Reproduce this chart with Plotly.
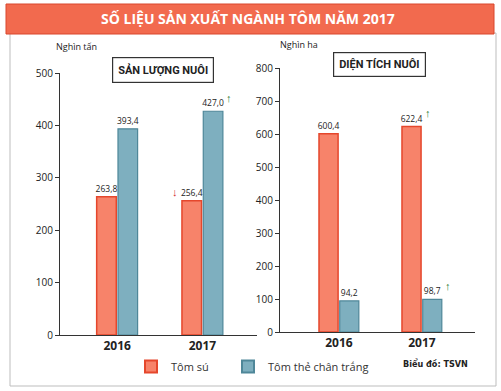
import plotly.graph_objects as go

years = ["2016", "2017"]
san_luong_tom_su = [263.8, 256.4]
san_luong_tom_the = [393.4, 427.0]
dien_tich_tom_su = [600.4, 622.4]
dien_tich_tom_the = [94.2, 98.7]
series_names = ["Tôm sú", "Tôm thẻ chân trắng"]
title_text = "SỐ LIỆU SẢN XUẤT NGÀNH TÔM NĂM 2017"
left_ticks = [0, 100, 200, 300, 400, 500]
right_ticks = [0, 100, 200, 300, 400, 500, 600, 700, 800]

W, H = 501, 391
RED_FILL, RED_LINE = "#F7836A", "#E5472C"
BLUE_FILL, BLUE_LINE = "#7EAFBF", "#4F8799"
FONT = "Open Sans"


def px(x):
    return x / W


def py(y):
    return 1 - y / H


fig = go.Figure()

common = dict(texttemplate="%{y:.1f}", textposition="outside", cliponaxis=False,
              constraintext="none",
              textfont=dict(size=8.5, color="#222", family=FONT))

fig.add_trace(go.Bar(x=years, y=san_luong_tom_su, name=series_names[0], legend="legend",
                     marker=dict(color=RED_FILL, line=dict(color=RED_LINE, width=1.5)),
                     xaxis="x", yaxis="y", legendgroup="a", **common))
fig.add_trace(go.Bar(x=years, y=san_luong_tom_the, name=series_names[1], legend="legend2",
                     marker=dict(color=BLUE_FILL, line=dict(color=BLUE_LINE, width=1.2)),
                     xaxis="x", yaxis="y", legendgroup="b", **common))
fig.add_trace(go.Bar(x=years, y=dien_tich_tom_su, name=series_names[0], showlegend=False,
                     marker=dict(color=RED_FILL, line=dict(color=RED_LINE, width=1.5)),
                     xaxis="x2", yaxis="y2", legendgroup="a", **common))
fig.add_trace(go.Bar(x=years, y=dien_tich_tom_the, name=series_names[1], showlegend=False,
                     marker=dict(color=BLUE_FILL, line=dict(color=BLUE_LINE, width=1.2)),
                     xaxis="x2", yaxis="y2", legendgroup="b", **common))

xaxis_common = dict(type="category", showgrid=False, zeroline=False, showline=True,
                    linecolor="#333", linewidth=1, ticks="", automargin=False,
                    tickfont=dict(size=12, color="#222", family=FONT, weight="bold"))
yaxis_common = dict(showgrid=False, zeroline=False, showline=True, linecolor="#333",
                    linewidth=1, ticks="outside", ticklen=4, tickcolor="#333", automargin=False,
                    tickfont=dict(size=10, color="#222", family=FONT))

legend_common = dict(orientation="h", xanchor="left", yanchor="top",
                     xref="container", yref="container",
                     font=dict(size=11, color="#333", family=FONT),
                     itemsizing="constant", bgcolor="rgba(0,0,0,0)")

fig.update_layout(
    width=W, height=H,
    margin=dict(l=0, r=0, t=0, b=0, autoexpand=False),
    paper_bgcolor="white", plot_bgcolor="white",
    separators=",.",
    barmode="group", bargap=0.5, bargroupgap=0.08,
    font=dict(family=FONT, color="#222"),
    xaxis=dict(domain=[px(60), px(257)], range=[-0.67, 1.64], anchor="y", **xaxis_common),
    yaxis=dict(domain=[py(335), py(73)], range=[0, 500], tickvals=left_ticks,
               anchor="x", **yaxis_common),
    xaxis2=dict(domain=[px(280), px(475)], range=[-0.71, 1.64], anchor="y2", **xaxis_common),
    yaxis2=dict(domain=[py(332), py(68)], range=[0, 800], tickvals=right_ticks,
                anchor="x2", **yaxis_common),
    legend=dict(x=px(131), y=py(352), **legend_common),
    legend2=dict(x=px(228), y=py(352), **legend_common),
    showlegend=True,
)

# outer frame and banner
fig.add_shape(type="rect", xref="paper", yref="paper", x0=px(10), x1=px(496), y0=py(386), y1=py(33),
              line=dict(color="#BDBDBD", width=1), fillcolor="rgba(0,0,0,0)", layer="below")
fig.add_shape(type="rect", xref="paper", yref="paper", x0=px(6), x1=px(494), y0=py(34), y1=py(4),
              line=dict(color="#D9462D", width=1), fillcolor="#F26A4E", layer="below")

ann = []


def label(text, x, y, size, color="#222", family=FONT, xanchor="center", **kw):
    ann.append(dict(text=text, x=px(x), y=py(y), xref="paper", yref="paper",
                    xanchor=xanchor, yanchor="middle", showarrow=False,
                    font=dict(size=size, color=color, family=family), **kw))


label("<b>" + title_text + "</b>", 248, 19, 14, color="white")
label("Nghìn tấn", 76, 47, 9)
label("Nghìn ha", 299, 45, 9)
label("<b>SẢN LƯỢNG NUÔI</b>", 163, 69.5, 11, family="Roboto",
      bordercolor="#333", borderwidth=1.2, borderpad=5)
label("<b>DIỆN TÍCH NUÔI</b>", 379, 65, 11, family="Roboto",
      bordercolor="#333", borderwidth=1.2, borderpad=5)
label("<b>Biểu đồ: TSVN</b>", 470, 363, 9, family="DejaVu Sans Condensed, Roboto, sans-serif",
      xanchor="right")

# trend arrows
ann.append(dict(text="<b>↓</b>", x=0.875, y=san_luong_tom_su[1], xref="x", yref="y",
                xshift=-17, yshift=9, showarrow=False, font=dict(size=11, color="#D32F2F")))
ann.append(dict(text="<b>↑</b>", x=1.125, y=san_luong_tom_the[1], xref="x", yref="y",
                xshift=16, yshift=14, showarrow=False, font=dict(size=11, color="#2E7D32")))
ann.append(dict(text="<b>↑</b>", x=0.875, y=dien_tich_tom_su[1], xref="x2", yref="y2",
                xshift=16, yshift=14, showarrow=False, font=dict(size=11, color="#2E7D32")))
ann.append(dict(text="<b>↑</b>", x=1.125, y=dien_tich_tom_the[1], xref="x2", yref="y2",
                xshift=16, yshift=14, showarrow=False, font=dict(size=11, color="#2E7D32")))
fig.update_layout(annotations=ann)

fig.write_html("out.html", config={"displayModeBar": False},
               post_script="document.body.style.margin='0';")
